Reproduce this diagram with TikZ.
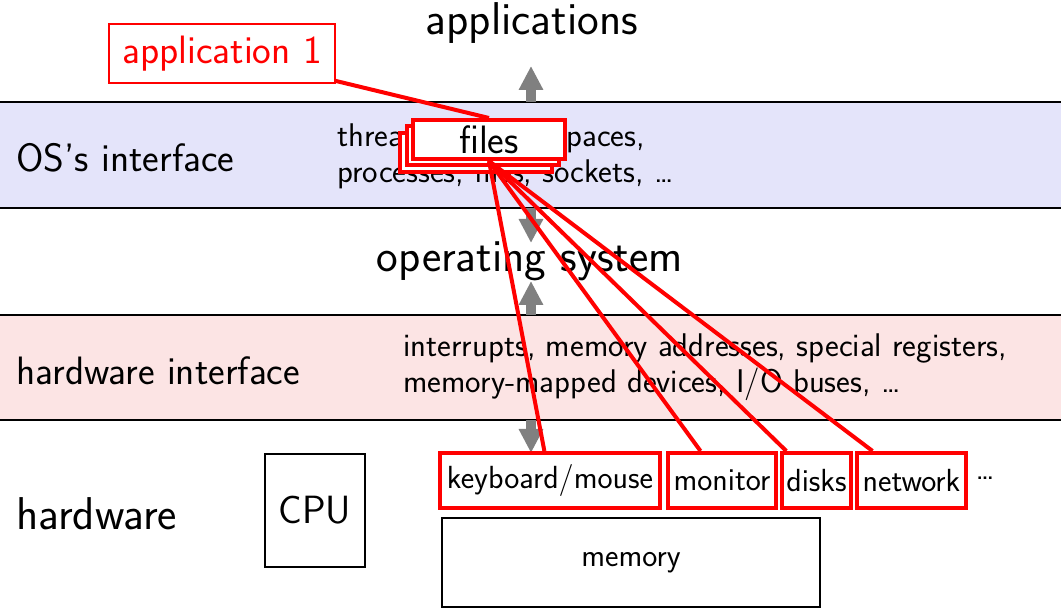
\documentclass[tikz,border=0pt]{standalone}
\usetikzlibrary{arrows.meta}
\definecolor{osband}{RGB}{228,228,250}
\definecolor{hwband}{RGB}{252,228,228}
\definecolor{arrowgray}{RGB}{128,128,128}
\begin{document}
\begin{tikzpicture}[x=0.5pt,y=-0.5pt,
  every node/.style={font=\sffamily},
  bigtext/.style={font=\sffamily\fontsize{23}{27}\selectfont},
  midtext/.style={font=\sffamily\fontsize{19.8}{23}\selectfont},
  smalltext/.style={font=\sffamily\fontsize{16.4}{18}\selectfont, align=left, inner sep=0pt},
  devtext/.style={font=\sffamily\fontsize{16}{19}\selectfont},
  redbox/.style={draw=red, line width=2pt, fill=white, inner sep=0pt},
  blackbox/.style={draw=black, line width=0.8pt, fill=white, inner sep=0pt},
  redline/.style={draw=red, line width=2pt},
  grayarrow/.style={draw=arrowgray, line width=5pt, -{Triangle[width=11.5pt,length=12pt]}},
  bandline/.style={draw=black, line width=1pt}
]
\useasboundingbox (0,0) rectangle (1061,609);

% interface bands
\fill[osband] (0,102) rectangle (1061,208);
\fill[hwband] (0,315) rectangle (1061,420);
\draw[bandline] (0,102) -- (1061,102);
\draw[bandline] (0,208) -- (1061,208);
\draw[bandline] (0,315) -- (1061,315);
\draw[bandline] (0,420) -- (1061,420);

% layer titles
\node[bigtext] (apps) at (532,23) {applications};
\node[bigtext] (os) at (530,261) {operating system};
\node[midtext, anchor=west, inner sep=0pt] (osif) at (16,158) {OS's interface};
\node[midtext, anchor=west, inner sep=0pt] (hwif) at (16,371) {hardware interface};
\node[bigtext, anchor=west, inner sep=0pt] (hw) at (16,514) {hardware};

% interface contents
\node[smalltext, anchor=west] (ostext) at (337,156) {threads, address spaces,\\processes, files, sockets, \ldots};
\node[smalltext, anchor=west] (hwtext) at (403,367) {interrupts, memory addresses, special registers,\\memory-mapped devices, I/O buses, \ldots};

% end points of the layer arrows
\coordinate (a1s) at (531,102);
\coordinate (a1e) at (531,66);
\coordinate (a2s) at (531,208);
\coordinate (a2e) at (531,243);
\coordinate (a3s) at (531,315);
\coordinate (a3e) at (531,281);
\coordinate (a4s) at (531,420);
\coordinate (a4e) at (531,453);
\draw[grayarrow] (a1s) -- (a1e);
\draw[grayarrow] (a2s) -- (a2e);
\draw[grayarrow] (a3s) -- (a3e);
\draw[grayarrow] (a4s) -- (a4e);

% hardware
\node[blackbox, minimum width=50pt, minimum height=56.5pt, font=\sffamily\fontsize{19.7}{23}\selectfont] (cpu) at (315,510.5) {CPU};
\node[blackbox, minimum width=189pt, minimum height=44.5pt, devtext] (memory) at (631,562.5) {memory};
\node[redbox, minimum width=110pt, minimum height=27.5pt, devtext] (kbd) at (550,480.5) {keyboard/mouse};
\node[redbox, minimum width=54pt, minimum height=27.5pt, devtext] (monitor) at (722,480.5) {monitor};
\node[redbox, minimum width=34.5pt, minimum height=27.5pt, devtext] (disks) at (816.5,480.5) {disks};
\node[redbox, minimum width=54.5pt, minimum height=27.5pt, devtext] (network) at (911.5,480.5) {network};
\node[devtext] (more) at (985,478) {\ldots};

% application and its files
\node[redbox, line width=0.7pt, minimum width=113pt, minimum height=29.5pt, midtext, text=red] (app1) at (222,53.5) {application 1};
\node[redbox, minimum width=76pt, minimum height=19.5pt] (files3) at (476,152.5) {};
\node[redbox, minimum width=76pt, minimum height=19.5pt] (files2) at (482.5,146) {};
\node[redbox, minimum width=76pt, minimum height=19.5pt, midtext] (files) at (489,139.5) {files};

\draw[redline] (app1) -- (files.north);
\draw[redline] (files.south) -- (kbd);
\draw[redline] (files.south) -- (monitor);
\draw[redline] (files.south) -- (disks);
\draw[redline] (files.south) -- (network);
\end{tikzpicture}
\end{document}
